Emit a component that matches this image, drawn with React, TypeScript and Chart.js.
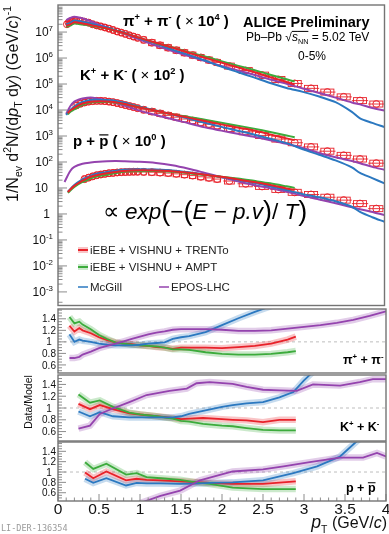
import React, { useEffect, useRef } from "react";
import { Chart, registerables } from "chart.js";
Chart.register(...registerables);

// ---------------- data: spectra (top panel) ----------------
const PI_PT = [0.11, 0.13, 0.15, 0.17, 0.19, 0.225, 0.275, 0.325, 0.375, 0.425, 0.475, 0.525, 0.575, 0.625, 0.675, 0.725, 0.775, 0.825, 0.875, 0.925, 0.975, 1.05, 1.15, 1.25, 1.35, 1.45, 1.55, 1.65, 1.75, 1.85, 1.95, 2.1, 2.3, 2.5, 2.7, 2.9, 3.1, 3.3, 3.5, 3.7, 3.9];
const PI_DATA = [2.0e7, 2.3e7, 2.5e7, 2.7e7, 2.8e7, 2.8e7, 2.7e7, 2.5e7, 2.3e7, 2.0e7, 1.8e7, 1.65e7, 1.5e7, 1.35e7, 1.2e7, 1.05e7, 9.5e6, 8.5e6, 7.5e6, 6.7e6, 6.0e6, 5.0e6, 3.9e6, 3.1e6, 2.5e6, 2.0e6, 1.6e6, 1.3e6, 1.05e6, 8.4e5, 6.8e5, 4.9e5, 3.3e5, 2.2e5, 1.5e5, 1.05e5, 6.8e4, 4.9e4, 3.2e4, 2.3e4, 1.7e4];
const PI_M_PT = [0.1, 0.15, 0.2, 0.3, 0.4, 0.5, 0.6, 0.7, 0.8, 1.0, 1.2, 1.4, 1.6, 1.8, 2.0, 2.2, 2.4, 2.6, 2.8, 2.9];
const PI_TRENTO = [1.75e7, 1.97e7, 2.37e7, 2.13e7, 1.87e7, 1.59e7, 1.38e7, 1.13e7, 9.3e6, 5.96e6, 3.85e6, 2.53e6, 1.61e6, 1.04e6, 6.7e5, 4.4e5, 2.9e5, 1.84e5, 1.2e5, 9.6e4];
const PI_AMPT = [1.6e7, 1.76e7, 2.12e7, 1.95e7, 1.76e7, 1.54e7, 1.37e7, 1.13e7, 9.3e6, 5.96e6, 3.8e6, 2.59e6, 1.69e6, 1.15e6, 7.6e5, 5.1e5, 3.46e5, 2.28e5, 1.52e5, 1.25e5];
const PI_X_PT = [0.1, 0.15, 0.2, 0.3, 0.4, 0.5, 0.6, 0.7, 0.8, 1.0, 1.2, 1.4, 1.6, 1.8, 2.0, 2.2, 2.4, 2.6, 2.8, 3.0, 3.2, 3.4, 3.6, 3.7, 3.85, 4.0];
const PI_MCGILL = [2.0e7, 2.25e7, 2.8e7, 2.5e7, 2.15e7, 1.77e7, 1.5e7, 1.19e7, 9.6e6, 5.8e6, 3.6e6, 2.1e6, 1.32e6, 8.0e5, 4.7e5, 2.9e5, 1.8e5, 1.1e5, 7.0e4, 5.0e4, 3.3e4, 2.0e4, 8.5e3, 4.8e3, 3.2e3, 2.2e3];
const PI_EPOS = [2.9e7, 3.47e7, 3.9e7, 3.38e7, 2.6e7, 1.93e7, 1.53e7, 1.15e7, 9.0e6, 5.1e6, 3.0e6, 1.86e6, 1.19e6, 7.7e5, 4.96e5, 3.36e5, 2.27e5, 1.5e5, 1.02e5, 6.7e4, 4.5e4, 3.0e4, 1.96e4, 1.65e4, 1.2e4, 9.5e3];

const K_PT = [0.225, 0.275, 0.325, 0.375, 0.425, 0.475, 0.525, 0.575, 0.625, 0.675, 0.725, 0.775, 0.825, 0.875, 0.925, 0.975, 1.05, 1.15, 1.25, 1.35, 1.45, 1.55, 1.65, 1.75, 1.85, 1.95, 2.1, 2.3, 2.5, 2.7, 2.9, 3.1, 3.3, 3.5, 3.7, 3.9];
const K_DATA = [1.5e4, 1.75e4, 1.95e4, 2.1e4, 2.2e4, 2.25e4, 2.25e4, 2.2e4, 2.1e4, 2.0e4, 1.85e4, 1.7e4, 1.55e4, 1.42e4, 1.3e4, 1.18e4, 1.02e4, 8.7e3, 7.4e3, 6.2e3, 5.3e3, 4.5e3, 3.9e3, 3.35e3, 2.85e3, 2.45e3, 1.95e3, 1.45e3, 1.05e3, 7.6e2, 5.5e2, 3.8e2, 2.6e2, 1.8e2, 1.3e2, 90];
const K_M_PT = [0.12, 0.15, 0.2, 0.25, 0.3, 0.4, 0.5, 0.6, 0.7, 0.8, 1.0, 1.2, 1.4, 1.6, 1.8, 2.0, 2.2, 2.4, 2.6, 2.8, 2.9];
const K_TRENTO = [7.5e3, 9.5e3, 1.2e4, 1.5e4, 1.78e4, 2.1e4, 2.17e4, 2.12e4, 1.97e4, 1.74e4, 1.26e4, 9.3e3, 6.9e3, 5.1e3, 3.75e3, 2.8e3, 2.12e3, 1.62e3, 1.15e3, 8.1e2, 6.9e2];
const K_AMPT = [6.8e3, 8.5e3, 1.05e4, 1.32e4, 1.6e4, 1.95e4, 2.02e4, 2.03e4, 1.95e4, 1.72e4, 1.26e4, 9.3e3, 6.95e3, 5.45e3, 4.25e3, 3.25e3, 2.5e3, 1.92e3, 1.43e3, 1.05e3, 8.9e2];
const K_X_PT = [0.1, 0.15, 0.2, 0.25, 0.3, 0.4, 0.5, 0.6, 0.7, 0.8, 1.0, 1.2, 1.4, 1.6, 1.8, 2.0, 2.2, 2.4, 2.6, 2.8, 3.0, 3.2, 3.4, 3.6, 3.7, 3.85, 4.0];
const K_MCGILL = [6.5e3, 1.0e4, 1.35e4, 1.72e4, 2.06e4, 2.45e4, 2.45e4, 2.42e4, 2.26e4, 1.93e4, 1.33e4, 9.5e3, 6.7e3, 4.67e3, 3.23e3, 2.25e3, 1.6e3, 1.15e3, 7.8e2, 5.3e2, 3.1e2, 1.9e2, 1.15e2, 62, 38, 24, 15];
const K_EPOS = [7.0e3, 1.4e4, 2.1e4, 2.5e4, 2.8e4, 3.05e4, 2.7e4, 2.3e4, 1.88e4, 1.51e4, 9.5e3, 6.4e3, 4.38e3, 3.11e3, 2.15e3, 1.61e3, 1.21e3, 9.3e2, 6.9e2, 5.0e2, 3.46e2, 2.21e2, 1.52e2, 1.09e2, 90, 65, 50];

const P_PT = [0.325, 0.375, 0.425, 0.475, 0.525, 0.575, 0.625, 0.675, 0.725, 0.775, 0.825, 0.875, 0.925, 0.975, 1.05, 1.15, 1.25, 1.35, 1.45, 1.55, 1.65, 1.75, 1.85, 1.95, 2.1, 2.3, 2.5, 2.7, 2.9, 3.1, 3.3, 3.5, 3.7, 3.9];
const P_DATA = [22, 25, 28, 31, 33, 35, 37, 38, 39.5, 40.5, 41, 41.5, 42, 42, 41.5, 40.5, 39, 37.5, 35, 32.5, 30, 27, 24.5, 22, 18.5, 14.5, 11.5, 8.8, 6.8, 5.6, 4.4, 3.4, 2.5, 1.6];
const P_M_PT = [0.12, 0.2, 0.3, 0.35, 0.4, 0.5, 0.6, 0.8, 1.0, 1.2, 1.4, 1.6, 1.8, 2.0, 2.2, 2.4, 2.6, 2.8, 2.9];
const P_TRENTO = [7, 12, 19, 23, 27, 32.5, 37, 45, 48.5, 47.3, 43.7, 38.5, 32.5, 26.9, 21.4, 16.9, 12.9, 9.6, 8.3];
const P_AMPT = [6.5, 11, 17, 19.7, 23.5, 28.6, 32, 42.4, 44.2, 45.1, 42.2, 37.1, 31.3, 27.3, 23.2, 18.8, 15.1, 11.6, 10.1];
const P_X_PT = [0.12, 0.2, 0.3, 0.35, 0.4, 0.5, 0.6, 0.8, 1.0, 1.2, 1.4, 1.6, 1.8, 2.0, 2.2, 2.4, 2.6, 2.8, 3.0, 3.2, 3.4, 3.6, 3.7, 3.85, 4.0];
const P_MCGILL = [7, 13, 21.5, 25, 30, 37.2, 40.9, 50, 53, 51, 47.1, 40, 32.5, 26.3, 20.6, 15.9, 11.7, 8.3, 5.8, 4.4, 3.1, 1.9, 1.2, 0.75, 0.5];
const P_EPOS_PT = [0.08, 0.15, 0.2, 0.3, 0.4, 0.5, 0.6, 0.7, 0.8, 1.0, 1.2, 1.4, 1.6, 1.8, 2.0, 2.2, 2.4, 2.6, 2.8, 3.0, 3.2, 3.4, 3.6, 3.8, 4.0];
const P_EPOS = [17, 45, 65, 85, 95, 102, 106, 108, 107, 102, 92, 75, 55, 38, 26, 18, 13, 9.8, 7.2, 5.0, 3.6, 2.6, 1.8, 1.3, 0.9];

// ---------------- data: Data/Model ratios ----------------
const R_PI_PT = [0.14, 0.2, 0.26, 0.3, 0.4, 0.5, 0.6, 0.7, 0.8, 0.9, 1.0, 1.1, 1.2, 1.3, 1.4, 1.5, 1.6, 1.8, 2.0, 2.2, 2.4, 2.6, 2.8, 2.9];
const R_PI_TRENTO = [1.28, 1.18, 1.24, 1.2, 1.15, 1.08, 1.03, 0.99, 0.97, 0.96, 0.94, 0.93, 0.91, 0.9, 0.88, 0.9, 0.9, 0.9, 0.89, 0.91, 0.93, 0.97, 1.04, 1.09];
const R_PI_AMPT = [1.43, 1.32, 1.35, 1.3, 1.22, 1.12, 1.05, 0.99, 0.97, 0.95, 0.94, 0.93, 0.92, 0.9, 0.87, 0.87, 0.86, 0.82, 0.79, 0.78, 0.78, 0.79, 0.82, 0.84];
const R_PI_MCGILL = [1.13, 1.0, 1.04, 1.02, 1.0, 0.97, 0.95, 0.94, 0.94, 0.94, 0.95, 0.97, 0.98, 0.99, 1.05, 1.08, 1.1, 1.17, 1.29, 1.41, 1.52, 1.62, 1.72, 1.78];
const R_PI_EPOS_PT = [0.14, 0.2, 0.26, 0.3, 0.4, 0.5, 0.6, 0.7, 0.8, 0.9, 1.0, 1.1, 1.2, 1.3, 1.4, 1.5, 1.6, 1.8, 2.0, 2.2, 2.4, 2.6, 2.8, 3.0, 3.2, 3.4, 3.6, 3.8, 4.0];
const R_PI_EPOS = [0.72, 0.72, 0.74, 0.78, 0.83, 0.89, 0.93, 0.97, 1.01, 1.05, 1.09, 1.13, 1.16, 1.18, 1.21, 1.22, 1.22, 1.22, 1.21, 1.19, 1.19, 1.2, 1.23, 1.26, 1.29, 1.33, 1.38, 1.45, 1.53];

const R_K_PT = [0.25, 0.39, 0.51, 0.67, 0.87, 1.0, 1.2, 1.4, 1.5, 1.6, 1.77, 2.0, 2.13, 2.3, 2.5, 2.7, 2.9];
const R_K_TRENTO = [1.07, 0.98, 1.05, 0.98, 0.91, 0.89, 0.86, 0.83, 0.81, 0.82, 0.83, 0.81, 0.8, 0.79, 0.76, 0.8, 0.8];
const R_K_AMPT = [1.23, 1.09, 1.13, 1.02, 0.92, 0.89, 0.86, 0.82, 0.78, 0.77, 0.73, 0.7, 0.69, 0.66, 0.63, 0.62, 0.62];
const R_K_MCGILL_PT = [0.25, 0.39, 0.51, 0.67, 0.87, 1.0, 1.2, 1.4, 1.5, 1.6, 1.77, 2.0, 2.13, 2.3, 2.5, 2.7, 2.87, 3.0, 3.1, 3.2];
const R_K_MCGILL = [0.94, 0.86, 0.93, 0.86, 0.84, 0.84, 0.84, 0.84, 0.86, 0.9, 0.95, 1.02, 1.05, 1.08, 1.1, 1.18, 1.27, 1.47, 1.6, 1.72];
const R_K_EPOS_PT = [0.25, 0.39, 0.51, 0.63, 0.87, 1.08, 1.36, 1.57, 1.69, 1.85, 2.13, 2.3, 2.5, 2.7, 2.91, 3.11, 3.44, 3.68, 3.84, 4.0];
const R_K_EPOS = [0.65, 0.7, 0.9, 0.97, 1.1, 1.22, 1.29, 1.33, 1.42, 1.44, 1.41, 1.36, 1.31, 1.3, 1.29, 1.4, 1.38, 1.44, 1.49, 1.49];

const R_P_PT = [0.33, 0.43, 0.59, 0.83, 0.96, 1.08, 1.25, 1.49, 1.73, 1.85, 2.13, 2.5, 2.9];
const R_P_TRENTO = [0.99, 0.88, 1.01, 0.84, 0.87, 0.85, 0.84, 0.82, 0.8, 0.79, 0.77, 0.77, 0.82];
const R_P_AMPT = [1.19, 1.06, 1.16, 0.95, 0.98, 0.9, 0.88, 0.85, 0.79, 0.77, 0.7, 0.67, 0.67];
const R_P_MCGILL_PT = [0.33, 0.43, 0.59, 0.83, 0.96, 1.08, 1.25, 1.49, 1.73, 1.85, 2.13, 2.5, 2.87, 3.16, 3.44, 3.62, 3.72];
const R_P_MCGILL = [0.87, 0.79, 0.88, 0.74, 0.79, 0.78, 0.78, 0.77, 0.78, 0.79, 0.8, 0.84, 0.98, 1.11, 1.3, 1.56, 1.7];
const R_P_EPOS_PT = [1.0, 1.25, 1.49, 1.73, 2.13, 2.5, 2.75, 3.07, 3.44, 3.72, 3.89, 4.0];
const R_P_EPOS = [0.4, 0.54, 0.64, 0.84, 1.01, 1.05, 1.11, 1.19, 1.28, 1.28, 1.37, 1.3];

const X_TICKS = [0, 0.5, 1, 1.5, 2, 2.5, 3, 3.5, 4];
const RATIO_TICKS = [0.6, 0.8, 1, 1.2, 1.4];
const DECADE_EXP = [-3, -2, -1, 0, 1, 2, 3, 4, 5, 6, 7];

// ---------------- styles ----------------
const FONT = "'Liberation Sans', Arial, Helvetica, sans-serif";
const RED = "#e8222a";
const GREEN = "#3cab3c";
const BLUE = "#2b78c0";
const PURPLE = "#9443ae";
const BAND = (c: string) => c + "44";
const FRAME = "#747474";
const TICK = "#8c8c8c";

type Seg = { t: string; s?: number; b?: boolean; i?: boolean; dy?: number; ov?: number };

function segFont(seg: Seg, base: number, bold: boolean) {
  const size = base * (seg.s ?? 1);
  const b = seg.b ?? bold;
  return `${seg.i ? "italic " : ""}${b ? "bold " : ""}${size}px ${FONT}`;
}

function drawRich(
  ctx: CanvasRenderingContext2D,
  x: number,
  y: number,
  segs: Seg[],
  base: number,
  opts: { align?: string; bold?: boolean; color?: string } = {}
) {
  const bold = !!opts.bold;
  let w = 0;
  const widths = segs.map((seg) => {
    ctx.font = segFont(seg, base, bold);
    const m = ctx.measureText(seg.t).width;
    w += m;
    return m;
  });
  let cx = opts.align === "center" ? x - w / 2 : opts.align === "right" ? x - w : x;
  ctx.fillStyle = opts.color ?? "#000";
  ctx.strokeStyle = opts.color ?? "#000";
  ctx.textBaseline = "alphabetic";
  ctx.textAlign = "left";
  segs.forEach((seg, k) => {
    ctx.font = segFont(seg, base, bold);
    ctx.fillText(seg.t, cx, y + (seg.dy ?? 0) * base);
    if (seg.ov) {
      ctx.lineWidth = Math.max(1, base * 0.08);
      ctx.beginPath();
      ctx.moveTo(cx, y - seg.ov * base);
      ctx.lineTo(cx + widths[k], y - seg.ov * base);
      ctx.stroke();
    }
    cx += widths[k];
  });
}

const xy = (xs: number[], ys: number[]) => xs.map((x, i) => ({ x, y: ys[i] }));

function lineDs(label: string, pts: any[], color: string, width: number, order: number, tension = 0) {
  return {
    label,
    data: pts,
    borderColor: color,
    backgroundColor: color,
    borderWidth: width,
    pointRadius: 0,
    pointHoverRadius: 0,
    tension,
    order,
    fill: false,
  };
}

function dataDs(label: string, pts: any[]) {
  return {
    label,
    data: pts,
    showLine: false,
    borderColor: RED,
    backgroundColor: "rgba(0,0,0,0)",
    pointBorderColor: RED,
    pointBackgroundColor: "rgba(255,255,255,0)",
    pointRadius: 3.5,
    pointBorderWidth: 1,
    pointHoverRadius: 3.5,
    order: 10,
  };
}

function strokeLine(ctx: CanvasRenderingContext2D, x1: number, y1: number, x2: number, y2: number) {
  ctx.beginPath();
  ctx.moveTo(x1, y1);
  ctx.lineTo(x2, y2);
  ctx.stroke();
}

function baseOptions(padding: any, yScale: any) {
  return {
    animation: false,
    responsive: false,
    maintainAspectRatio: false,
    events: [],
    layout: { padding },
    plugins: { legend: { display: false }, tooltip: { enabled: false }, title: { display: false } },
    scales: {
      x: { type: "linear", min: 0, max: 4, display: false },
      y: { ...yScale, display: false },
    },
  };
}

const sup = (t: string): Seg => ({ t, s: 0.62, dy: -0.42 });

// ---------------- top panel: spectra ----------------
function makeSpectra(cv: HTMLCanvasElement) {
  const species = [
    { pt: PI_PT, val: PI_DATA, m: [[PI_M_PT, PI_TRENTO], [PI_M_PT, PI_AMPT], [PI_X_PT, PI_MCGILL], [PI_X_PT, PI_EPOS]] },
    { pt: K_PT, val: K_DATA, m: [[K_M_PT, K_TRENTO], [K_M_PT, K_AMPT], [K_X_PT, K_MCGILL], [K_X_PT, K_EPOS]] },
    { pt: P_PT, val: P_DATA, m: [[P_M_PT, P_TRENTO], [P_M_PT, P_AMPT], [P_X_PT, P_MCGILL], [P_EPOS_PT, P_EPOS]] },
  ];
  const colors = [RED, GREEN, BLUE, PURPLE];
  const datasets: any[] = [];
  species.forEach((sp, si) => {
    datasets.push(dataDs("data" + si, xy(sp.pt, sp.val)));
    sp.m.forEach((mm, k) => datasets.push(lineDs("model" + si + k, xy(mm[0] as number[], mm[1] as number[]), colors[k], 2, 1, 0.3)));
  });

  const sysBoxes = {
    id: "sysBoxes",
    beforeDatasetsDraw(chart: any) {
      const ctx = chart.ctx;
      const a = chart.chartArea;
      ctx.save();
      ctx.beginPath();
      ctx.rect(a.left, a.top, a.right - a.left, a.bottom - a.top);
      ctx.clip();
      ctx.strokeStyle = RED;
      ctx.lineWidth = 0.9;
      chart.data.datasets.forEach((ds: any, i: number) => {
        if (!String(ds.label).startsWith("data")) return;
        const pts = chart.getDatasetMeta(i).data;
        pts.forEach((p: any, j: number) => {
          const dl = j > 0 ? p.x - pts[j - 1].x : pts[j + 1].x - p.x;
          const dr = j < pts.length - 1 ? pts[j + 1].x - p.x : dl;
          const hw = 0.5 * Math.min(dl, dr);
          strokeLine(ctx, p.x - hw, p.y, p.x + hw, p.y);
          ctx.strokeRect(p.x - hw * 0.8, p.y - 3, hw * 1.6, 6);
        });
      });
      ctx.restore();
    },
  };

  const deco = {
    id: "deco",
    afterDraw(chart: any) {
      const ctx: CanvasRenderingContext2D = chart.ctx;
      const a = chart.chartArea;
      const y = chart.scales.y;
      ctx.save();
      ctx.strokeStyle = TICK;
      ctx.lineWidth = 1;
      DECADE_EXP.forEach((e) => {
        for (let m = 1; m <= 9; m++) {
          const p = y.getPixelForValue(m * Math.pow(10, e));
          if (p < a.top || p > a.bottom) continue;
          strokeLine(ctx, a.left, p, a.left + (m === 1 ? 9 : 4.5), p);
        }
      });
      {
        const p = y.getPixelForValue(4e-4);
        strokeLine(ctx, a.left, p, a.left + 4.5, p);
      }
      ctx.strokeStyle = FRAME;
      ctx.lineWidth = 1.4;
      ctx.strokeRect(a.left, a.top, a.right - a.left, a.bottom - a.top);
      DECADE_EXP.forEach((e) => {
        const p = y.getPixelForValue(Math.pow(10, e)) + 4.3;
        if (e === 0) drawRich(ctx, 50, p, [{ t: "1" }], 12, { align: "right", color: "#111" });
        else if (e === 1) drawRich(ctx, 48, p, [{ t: "10" }], 12, { align: "right", color: "#111" });
        else drawRich(ctx, 53, p, [{ t: "10" }, { t: String(e), s: 0.66, dy: -0.42 }], 12, { align: "right", color: "#111" });
      });
      ctx.save();
      ctx.translate(18, 104);
      ctx.rotate(-Math.PI / 2);
      drawRich(
        ctx,
        0,
        0,
        [
          { t: "1/N" },
          { t: "ev", s: 0.65, dy: 0.25 },
          { t: " d" },
          { t: "2", s: 0.65, dy: -0.42 },
          { t: "N/(d" },
          { t: "p", i: true },
          { t: "T", s: 0.65, dy: 0.28 },
          { t: " d" },
          { t: "y", i: true },
          { t: ") (GeV/" },
          { t: "c", i: true },
          { t: ")" },
          { t: "-1", s: 0.65, dy: -0.42 },
        ],
        16,
        { align: "center", color: "#111" }
      );
      ctx.restore();
      drawRich(ctx, 123, 26, [{ t: "π" }, sup("+"), { t: " + π" }, sup("-"), { t: " ( " }, { t: "×", b: false }, { t: " 10" }, sup("4"), { t: " )" }], 15, { bold: true });
      drawRich(ctx, 80, 80, [{ t: "K" }, sup("+"), { t: " + K" }, sup("-"), { t: " ( " }, { t: "×", b: false }, { t: " 10" }, sup("2"), { t: " )" }], 15, { bold: true });
      drawRich(ctx, 73, 146, [{ t: "p + " }, { t: "p", ov: 0.74 }, { t: " ( " }, { t: "×", b: false }, { t: " 10" }, sup("0"), { t: " )" }], 15, { bold: true });
      drawRich(ctx, 243, 27, [{ t: "ALICE Preliminary" }], 14.5, { bold: true });
      drawRich(
        ctx,
        246,
        41,
        [{ t: "Pb–Pb " }, { t: "√" }, { t: "s", i: true, ov: 0.8 }, { t: "NN", s: 0.6, dy: 0.28, ov: 0.8 }, { t: " = 5.02 TeV" }],
        12
      );
      drawRich(ctx, 312, 60, [{ t: "0-5%" }], 12, { align: "center" });
      drawRich(
        ctx,
        205,
        219,
        [
          { t: "∝ " },
          { t: "exp", i: true },
          { t: "(", s: 1.2, dy: 0.06 },
          { t: "−" },
          { t: "(", s: 1.2, dy: 0.06 },
          { t: "E", i: true },
          { t: " − " },
          { t: "p.v", i: true },
          { t: ")", s: 1.2, dy: 0.06 },
          { t: "/ " },
          { t: "T", i: true },
          { t: ")", s: 1.2, dy: 0.06 },
        ],
        22.5,
        { align: "center" }
      );
      const leg = [
        { c: RED, y: 250, x: 78, t: "iEBE + VISHNU + TRENTo", band: true },
        { c: GREEN, y: 267, x: 78, t: "iEBE + VISHNU + AMPT", band: true },
        { c: BLUE, y: 287, x: 78, t: "McGill", band: false },
        { c: PURPLE, y: 287, x: 159, t: "EPOS-LHC", band: false },
      ];
      leg.forEach((l) => {
        if (l.band) {
          ctx.fillStyle = BAND(l.c);
          ctx.fillRect(l.x, l.y - 3, 10, 6);
        }
        ctx.strokeStyle = l.c;
        ctx.lineWidth = l.band ? 2 : 1.5;
        strokeLine(ctx, l.x, l.y, l.x + 10, l.y);
        drawRich(ctx, l.x + 12, l.y + 4, [{ t: l.t }], 11.5, { color: "#222" });
      });
      ctx.restore();
    },
  };

  return new Chart(cv, {
    type: "line",
    data: { datasets },
    options: baseOptions({ left: 58, right: 3, top: 5, bottom: 4 }, { type: "logarithmic", min: 3e-4, max: 1.1e8 }) as any,
    plugins: [sysBoxes, deco],
  });
}

// ---------------- ratio panels ----------------
type RatioCfg = {
  min: number;
  max: number;
  padding: any;
  top: number;
  curves: [number[], number[], string][];
  label: Seg[];
  labelX: number;
  labelY: number;
  bottomAxis?: boolean;
  yTitle?: boolean;
};

function makeRatio(cv: HTMLCanvasElement, cfg: RatioCfg) {
  const datasets: any[] = [];
  datasets.push({
    ...lineDs("unity", [{ x: 0, y: 1 }, { x: 4, y: 1 }], "#bdbdbd", 1, 20),
    borderDash: [3, 3],
  });
  cfg.curves.forEach(([pt, v, c], k) => {
    datasets.push(lineDs("band" + k, xy(pt, v), BAND(c), 6.5, 10));
  });
  cfg.curves.forEach(([pt, v, c], k) => {
    datasets.push(lineDs("line" + k, xy(pt, v), c, 1.8, 1));
  });

  const deco = {
    id: "deco",
    afterDraw(chart: any) {
      const ctx: CanvasRenderingContext2D = chart.ctx;
      const a = chart.chartArea;
      const y = chart.scales.y;
      const x = chart.scales.x;
      ctx.save();
      ctx.strokeStyle = TICK;
      ctx.lineWidth = 1;
      for (let k = 9; k <= 31; k++) {
        const p = y.getPixelForValue(k * 0.05);
        if (p < a.top + 1 || p > a.bottom - 1) continue;
        strokeLine(ctx, a.left, p, a.left + (k % 4 === 0 ? 8 : 4), p);
      }
      if (cfg.bottomAxis) {
        for (let k = 0; k <= 40; k++) {
          const px = x.getPixelForValue(k * 0.1);
          strokeLine(ctx, px, a.bottom, px, a.bottom - (k % 5 === 0 ? 7 : 3.5));
        }
      }
      ctx.strokeStyle = FRAME;
      ctx.lineWidth = 1.4;
      ctx.strokeRect(a.left, a.top, a.right - a.left, a.bottom - a.top);
      RATIO_TICKS.forEach((v) => {
        const p = y.getPixelForValue(v);
        drawRich(ctx, 49, p + 3.6, [{ t: String(v) }], 10, { align: "center", color: "#111" });
      });
      drawRich(ctx, cfg.labelX, cfg.labelY, cfg.label, 12.5, { bold: true });
      if (cfg.yTitle) {
        ctx.save();
        ctx.translate(32, 402 - cfg.top);
        ctx.rotate(-Math.PI / 2);
        drawRich(ctx, 0, 0, [{ t: "Data/Model" }], 10.5, { align: "center", color: "#111" });
        ctx.restore();
      }
      if (cfg.bottomAxis) {
        X_TICKS.forEach((v) => {
          drawRich(ctx, x.getPixelForValue(v), 514 - cfg.top, [{ t: String(v) }], 15.5, { align: "center", color: "#111" });
        });
        drawRich(
          ctx,
          387,
          528 - cfg.top,
          [{ t: "p", i: true, s: 1.1 }, { t: "T", s: 0.65, dy: 0.3 }, { t: " (GeV/" }, { t: "c", i: true }, { t: ")" }],
          16,
          { align: "right", color: "#111" }
        );
        ctx.font = `8.5px 'DejaVu Sans Mono', monospace`;
        ctx.fillStyle = "#9a9a9a";
        ctx.textAlign = "left";
        ctx.fillText("LI-DER-136354", 1, 531 - cfg.top);
      }
      ctx.restore();
    },
  };

  return new Chart(cv, {
    type: "line",
    data: { datasets },
    options: baseOptions(cfg.padding, { type: "linear", min: cfg.min, max: cfg.max }) as any,
    plugins: [deco],
  });
}

export default function App() {
  const r0 = useRef<HTMLCanvasElement>(null);
  const r1 = useRef<HTMLCanvasElement>(null);
  const r2 = useRef<HTMLCanvasElement>(null);
  const r3 = useRef<HTMLCanvasElement>(null);

  useEffect(() => {
    const charts = [
      makeSpectra(r0.current!),
      makeRatio(r1.current!, {
        min: 0.46,
        max: 1.57,
        top: 306,
        padding: { left: 58, right: 3, top: 3, bottom: 3 },
        curves: [
          [R_PI_EPOS_PT, R_PI_EPOS, PURPLE],
          [R_PI_PT, R_PI_MCGILL, BLUE],
          [R_PI_PT, R_PI_AMPT, GREEN],
          [R_PI_PT, R_PI_TRENTO, RED],
        ],
        label: [{ t: "π" }, sup("+"), { t: " + π" }, sup("-")],
        labelX: 343,
        labelY: 58,
      }),
      makeRatio(r2.current!, {
        min: 0.44,
        max: 1.56,
        top: 372,
        padding: { left: 58, right: 3, top: 3, bottom: 3 },
        curves: [
          [R_K_EPOS_PT, R_K_EPOS, PURPLE],
          [R_K_MCGILL_PT, R_K_MCGILL, BLUE],
          [R_K_PT, R_K_AMPT, GREEN],
          [R_K_PT, R_K_TRENTO, RED],
        ],
        label: [{ t: "K" }, sup("+"), { t: " + K" }, sup("-")],
        labelX: 340,
        labelY: 59,
        yTitle: true,
      }),
      makeRatio(r3.current!, {
        min: 0.44,
        max: 1.58,
        top: 438,
        padding: { left: 58, right: 3, top: 4, bottom: 33 },
        curves: [
          [R_P_EPOS_PT, R_P_EPOS, PURPLE],
          [R_P_MCGILL_PT, R_P_MCGILL, BLUE],
          [R_P_PT, R_P_AMPT, GREEN],
          [R_P_PT, R_P_TRENTO, RED],
        ],
        label: [{ t: "p + " }, { t: "p", ov: 0.74 }],
        labelX: 346,
        labelY: 54,
        bottomAxis: true,
      }),
    ];
    return () => charts.forEach((c) => c.destroy());
  }, []);

  const cs = (top: number): React.CSSProperties => ({ position: "absolute", left: 0, top });
  return (
    <div style={{ position: "fixed", left: 0, top: 0, width: 389, height: 534, background: "#fff", overflow: "hidden" }}>
      <canvas ref={r0} width={389} height={310} style={cs(0)} />
      <canvas ref={r1} width={389} height={70} style={cs(306)} />
      <canvas ref={r2} width={389} height={72} style={cs(372)} />
      <canvas ref={r3} width={389} height={96} style={cs(438)} />
    </div>
  );
}
